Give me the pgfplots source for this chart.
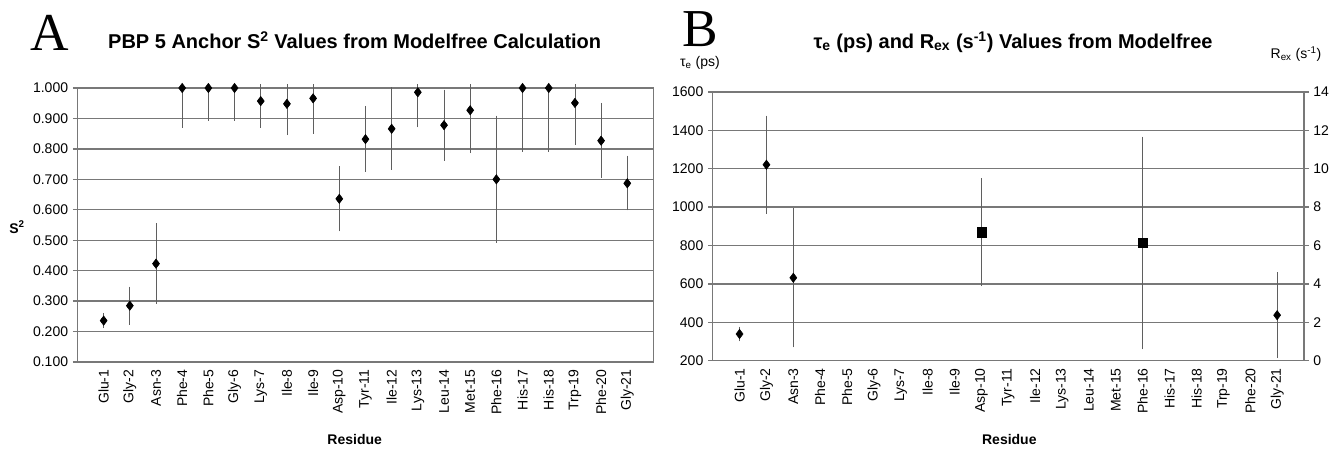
\documentclass[border=0pt]{standalone}
\usepackage{fontspec}
\setmainfont{Liberation Sans}
\newfontfamily\serifletter{Liberation Serif}
\usepackage{pgfplots}
\usepackage{pgfplotstable}
\pgfplotsset{compat=1.18}

\definecolor{gridgray}{RGB}{120,120,120}
\definecolor{bargray}{RGB}{95,95,95}
\newcommand{\ticks}{\fontsize{10.5}{12}\selectfont}
\newcommand{\titlefont}{\bfseries\fontsize{15}{17}\selectfont}

% S2 values: lower error bars (all points)
\pgfplotstableread{
x y em
1 0.236 0.018
2 0.285 0.055
3 0.423 0.124
4 1.000 0.124
5 1.000 0.100
6 1.000 0.100
7 0.957 0.081
8 0.948 0.096
9 0.966 0.110
10 0.636 0.100
11 0.832 0.100
12 0.866 0.128
13 0.986 0.108
14 0.878 0.110
15 0.927 0.134
16 0.700 0.202
17 1.000 0.203
18 1.000 0.203
19 0.951 0.131
20 0.827 0.115
21 0.687 0.082
}\stwo
% upper error bars that end inside the plot
\pgfplotstableread{
x y ep
1 0.236 0.018
2 0.285 0.056
3 0.423 0.125
10 0.636 0.100
11 0.832 0.102
12 0.866 0.130
14 0.878 0.110
16 0.700 0.202
20 0.827 0.117
21 0.687 0.084
}\stwoup
% upper error bars cut at the top of the plot
\pgfplotstableread{
x y ep
7 0.957 0.056
8 0.948 0.065
9 0.966 0.047
13 0.986 0.027
15 0.927 0.086
19 0.951 0.062
}\stwocut
% tau_e (ps)
\pgfplotstableread{
x y e
1 339 27
2 1221 245
3 632 351
21 437 213
}\taue
% R_ex (1/s)
\pgfplotstableread{
x y e
10 6.70 2.70
16 6.13 5.43
}\rex

\pgfplotsset{
  residues/.style={
    scale only axis, anchor=south west,
    xmin=0, xmax=22, xtick={1,...,21},
    xticklabels={Glu-1,Gly-2,Asn-3,Phe-4,Phe-5,Gly-6,Lys-7,Ile-8,Ile-9,Asp-10,Tyr-11,Ile-12,Lys-13,Leu-14,Met-15,Phe-16,His-17,His-18,Trp-19,Phe-20,Gly-21},
    x tick label style={rotate=90, anchor=east, font=\ticks, inner sep=2pt},
    y tick label style={font=\ticks},
    xtick style={draw=none},
    tick align=outside, major tick length=3.5pt,
    ytick style={gridgray, line width=1pt},
    axis line style={gridgray, line width=1pt},
    grid style={gridgray, line width=1pt},
    /pgf/number format/assume math mode=true,
    /pgf/number format/1000 sep={},
  },
  /pgfplots/error bars/ebar/.style={
    error bar style={bargray, line width=0.6pt},
    error mark options={bargray, mark size=1.6pt, line width=0.6pt},
  },
}

\begin{document}
\begin{tikzpicture}
\useasboundingbox (0,0) rectangle (999.75pt,-338.25pt);

% ---------------- panel A ----------------
\begin{axis}[residues,
  at={(58.1pt,-271.5pt)}, width=432pt, height=205.5pt,
  ymin=0.1, ymax=1.0,
  ytick={0.1,0.2,0.3,0.4,0.5,0.6,0.7,0.8,0.9,1.0},
  yticklabel style={/pgf/number format/.cd, fixed, fixed zerofill, precision=3},
  ytick pos=left, ymajorgrids, clip=false,
]
\addplot[only marks, mark=none, error bars/.cd, y dir=plus, y explicit, ebar]
  table[x=x, y=y, y error plus=ep]{\stwoup};
\addplot[only marks, mark=none, error bars/.cd, y dir=plus, y explicit, ebar, error mark=none]
  table[x=x, y=y, y error plus=ep]{\stwocut};
\addplot[only marks, mark=diamond*, mark size=3.5pt, black,
  error bars/.cd, y dir=minus, y explicit, ebar]
  table[x=x, y=y, y error minus=em]{\stwo};
\end{axis}

\node[font=\serifletter\fontsize{40}{44}\selectfont, anchor=base, inner sep=0pt, text depth=0pt] at (37.1pt,-37.5pt) {A};
\node[font=\titlefont, anchor=base] at (266pt,-36pt)
  {PBP 5 Anchor S\textsuperscript{2} Values from Modelfree Calculation};
\node[font=\bfseries\ticks] at (12.75pt,-170.25pt) {S\textsuperscript{2}};
\node[font=\bfseries\ticks, anchor=base] at (266pt,-333pt) {Residue};

% ---------------- panel B ----------------
\begin{axis}[residues,
  at={(534.5pt,-270.5pt)}, width=443.5pt, height=201.5pt,
  ymin=200, ymax=1600, ytick={200,400,...,1600},
  ytick pos=left, ymajorgrids,
]
\addplot[only marks, mark=diamond*, mark size=3.5pt, black,
  error bars/.cd, y dir=both, y explicit, ebar]
  table[x=x, y=y, y error=e]{\taue};
\end{axis}
\begin{axis}[residues,
  at={(534.5pt,-270.5pt)}, width=443.5pt, height=201.5pt,
  ymin=0, ymax=14, ytick={0,2,...,14},
  axis x line=none, axis y line*=right,
]
\addplot[only marks, mark=square*, mark size=3.5pt, black,
  error bars/.cd, y dir=both, y explicit, ebar]
  table[x=x, y=y, y error=e]{\rex};
\end{axis}

\node[font=\serifletter\fontsize{40}{44}\selectfont, anchor=base, inner sep=0pt, text depth=0pt] at (525pt,-35pt) {B};
\node[font=\titlefont, anchor=base] at (759.75pt,-36pt)
  {τ\textsubscript{e} (ps) and R\textsubscript{ex} (s\textsuperscript{-1}) Values from Modelfree};
\node[font=\ticks, anchor=base, inner sep=0.5pt] at (525pt,-49.5pt) {τ\textsubscript{e} (ps)};
\node[font=\ticks, anchor=base, inner sep=0.5pt] at (972pt,-44pt) {R\textsubscript{ex} (s\textsuperscript{-1})};
\node[font=\bfseries\ticks, anchor=base] at (757pt,-333pt) {Residue};
\end{tikzpicture}
\end{document}
